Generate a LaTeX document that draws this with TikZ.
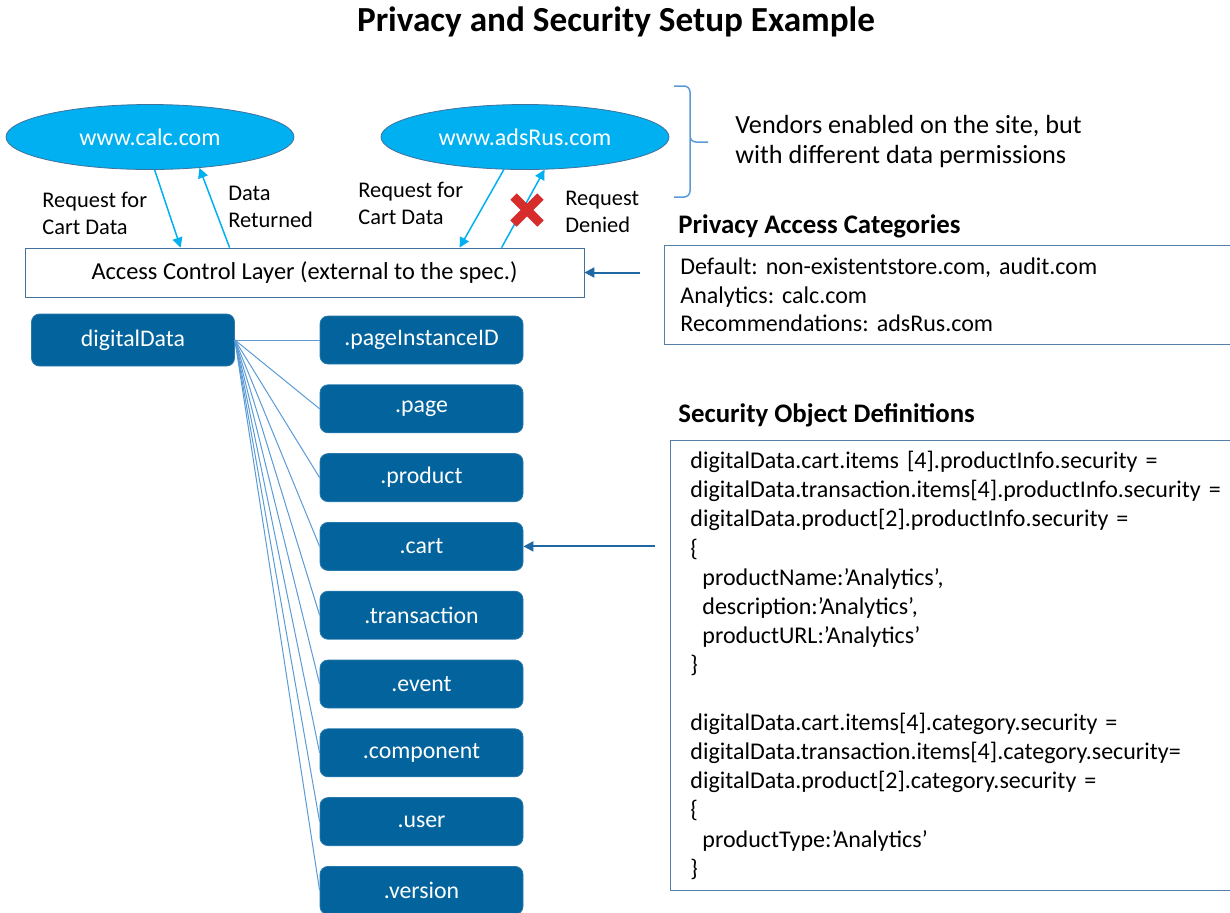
\documentclass[tikz,border=0pt]{standalone}
\usepackage{fontspec}
\setmainfont{Carlito}
\usepackage{tikz}
\usetikzlibrary{positioning,shapes.geometric,shapes.misc,arrows.meta}
\frenchspacing

\definecolor{vendorblue}{RGB}{0,176,240}
\definecolor{vendoredge}{RGB}{65,113,156}
\definecolor{objblue}{RGB}{3,99,157}
\definecolor{fanblue}{RGB}{91,155,213}
\definecolor{frameblue}{RGB}{84,128,168}
\definecolor{pointblue}{RGB}{31,104,163}
\definecolor{denyred}{RGB}{214,44,44}

\tikzset{
  vendor/.style={ellipse,draw=vendoredge,fill=vendorblue,text=white,inner sep=0pt,
    minimum width=144pt,minimum height=32.5pt,font=\fontsize{12}{14}\selectfont},
  objnode/.style={rectangle,rounded corners=4pt,draw=objblue!85!white,fill=objblue,
    text=white,minimum width=101.5pt,minimum height=24pt,font=\fontsize{11.9}{13}\selectfont},
  layer/.style={rectangle,draw=vendoredge,minimum width=279.5pt,minimum height=24.5pt,
    font=\fontsize{12.2}{14}\selectfont},
  infobox/.style={rectangle,draw=frameblue,anchor=north west,align=left,
    inner ysep=0pt,font=\fontsize{12}{14}\selectfont},
  lbl/.style={align=left,anchor=west,inner sep=0pt,font=\fontsize{11.2}{13.5}\selectfont},
  heading/.style={anchor=west,inner sep=0pt,font=\bfseries\fontsize{13.4}{15}\selectfont},
  flow/.style={-{Triangle[length=5pt,width=5pt]},draw=vendorblue,line width=0.75pt},
  pointer/.style={-{Triangle[length=5pt,width=5pt]},draw=pointblue,line width=1pt},
  fan/.style={draw=fanblue,line width=0.5pt},
  bracket/.style={draw=fanblue,line width=0.75pt,rounded corners=3pt},
  deny/.style={cross out,draw=denyred,line width=4.5pt,minimum size=9pt,inner sep=0pt},
  node distance=10pt
}

\begin{document}
\begin{tikzpicture}[x=0.5pt,y=-0.5pt]
  \useasboundingbox (0,0) rectangle (1230,912);

  \node[font=\bfseries\fontsize{17.6}{20}\selectfont] (title) at (616,22)
    {Privacy and Security Setup Example};

  % vendors and the access layer
  \node[vendor] (calc) at (150,137) {www.calc.com};
  \node[vendor] (ads) at (525,137) {www.adsRus.com};
  \node[layer] (acl) at (304.5,272.5) {Access Control Layer (external to the spec.)};

  \draw[flow] (calc.-82) -- ([xshift=78pt]acl.north west);
  \draw[flow] ([xshift=102.5pt]acl.north west) -- (calc.-32);
  \draw[flow] (ads.-123) -- ([xshift=217.5pt]acl.north west);
  \draw[flow] ([xshift=238.5pt]acl.north west) -- (ads.-59);
  \node[deny] (nox) at (527,210) {};

  \node[lbl] (req1) at (42,213) {Request for\\Cart Data};
  \node[lbl] (ret1) at (228,207) {Data\\Returned};
  \node[lbl] (req2) at (358,203) {Request for\\Cart Data};
  \node[lbl] (den2) at (565,212) {Request\\Denied};

  \draw[bracket] (674,86) -- (690,86) -- (690,142) -- (708,142);
  \draw[bracket] (690,138) -- (690,197) -- (674,197);
  \node[lbl,font=\fontsize{13.1}{15}\selectfont] (vend) at (735,142)
    {Vendors enabled on the site, but\\with different data permissions};

  % privacy categories
  \node[heading] (pachead) at (678,226) {Privacy Access Categories};
  \node[infobox,text width=270pt,inner xsep=8pt,minimum height=49.5pt,
    font=\fontsize{12}{14.25}\selectfont] (pac) at (664,245)
    {Default: non-existentstore.com, audit.com\\
     Analytics: calc.com\\
     Recommendations: adsRus.com};
  \coordinate (acltail) at ([xshift=28pt]acl.east);
  \draw[pointer] (acltail) -- (acl.east);

  % data layer objects
  \node[objnode,minimum height=26pt] (dd) at (133,340) {digitalData};
  \node[objnode] (pid) at (421.5,340) {.pageInstanceID};
  \node[objnode,below=of pid] (page) {.page};
  \node[objnode,below=of page] (prod) {.product};
  \node[objnode,below=of prod] (cart) {.cart};
  \node[objnode,below=of cart] (trans) {.transaction};
  \node[objnode,below=of trans] (ev) {.event};
  \node[objnode,below=of ev] (comp) {.component};
  \node[objnode,below=of comp] (usr) {.user};
  \node[objnode,below=of usr] (ver) {.version};

  \path[fan] (dd.east) edge (pid.west) edge (page.west) edge (prod.west)
    edge (cart.west) edge (trans.west) edge (ev.west) edge (comp.west)
    edge (usr.west) edge (ver.west);

  % security objects
  \node[heading] (sechead) at (678,415) {Security Object Definitions};
  \node[infobox,text width=275pt,inner xsep=10pt,minimum height=225pt,
    font=\fontsize{12}{14.55}\selectfont] (sec) at (670,440)
    {digitalData.cart.items [4].productInfo.security =\\
     digitalData.transaction.items[4].productInfo.security =\\
     digitalData.product[2].productInfo.security =\\
     \{\\
     \hspace*{6pt}productName:’Analytics’,\\
     \hspace*{6pt}description:’Analytics’,\\
     \hspace*{6pt}productURL:’Analytics’\\
     \}\\[\baselineskip]
     digitalData.cart.items[4].category.security =\\
     digitalData.transaction.items[4].category.security=\\
     digitalData.product[2].category.security =\\
     \{\\
     \hspace*{6pt}productType:’Analytics’\\
     \}};
  \coordinate (carttail) at ([xshift=66pt]cart.east);
  \draw[pointer] (carttail) -- (cart.east);
\end{tikzpicture}
\end{document}
